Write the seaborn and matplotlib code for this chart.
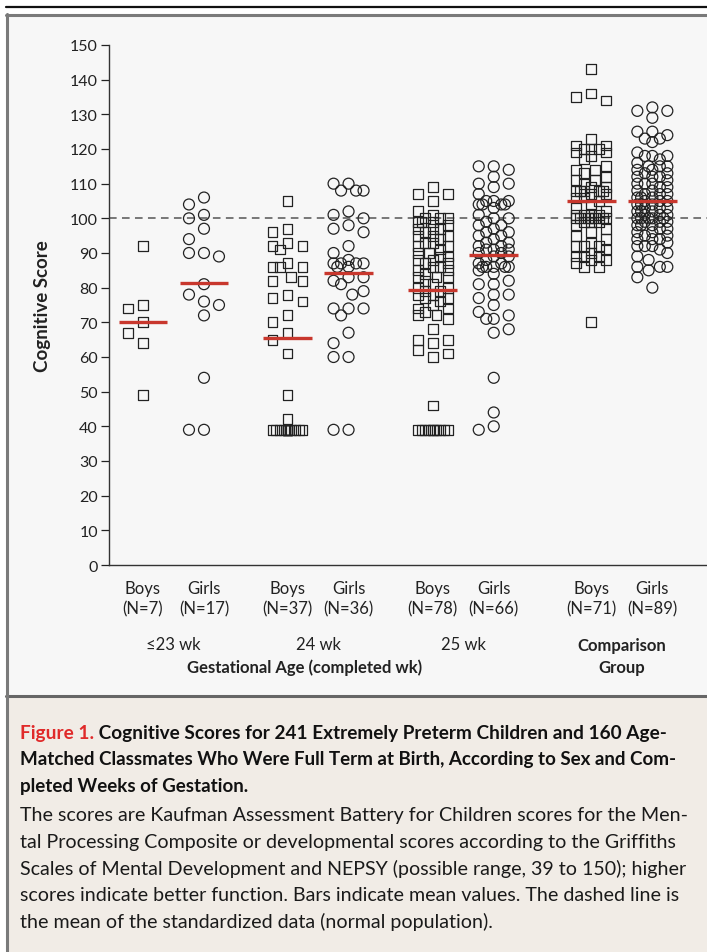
import numpy as np
import pandas as pd
import matplotlib
matplotlib.use("Agg")
import matplotlib.pyplot as plt
import seaborn as sns
from matplotlib.patches import Rectangle
from matplotlib.lines import Line2D

# Scores (one list per group)
boys_23 = [92, 75, 74, 70, 67, 64, 49]
girls_23 = [106, 104, 101, 100, 97, 94, 90, 90, 89, 81, 78, 76, 75, 72, 54, 39, 39]
boys_24 = [105, 97, 96, 93, 92, 92, 91, 87, 86, 86, 86, 83, 82, 82, 78, 77, 76,
           72, 70, 67, 65, 61, 49, 42] + [39] * 13
girls_24 = [110, 110, 108, 108, 108, 102, 101, 100, 98, 97, 96, 92, 90, 88, 87,
            87, 87, 87, 86, 86, 83, 83, 82, 81, 79, 78, 74, 74, 74, 72, 67, 64,
            60, 60, 39, 39]
boys_25 = [109, 107, 107, 105, 102, 101, 100, 100, 100, 99, 99, 99, 98, 97, 97,
           97, 96, 95, 95, 95, 94, 93, 93, 92, 92, 91, 90, 90, 89, 89, 88, 88,
           87, 87, 86, 86, 85, 85, 84, 83, 83, 83, 82, 81, 80, 80, 79, 79, 78,
           78, 77, 77, 76, 75, 74, 74, 73, 72, 72, 71, 68, 65, 65, 64, 62, 61,
           60, 46] + [39] * 10
girls_25 = [115, 115, 114, 112, 110, 110, 109, 107, 105, 105, 105, 104, 104, 104,
            104, 103, 101, 100, 100, 99, 98, 98, 97, 96, 96, 95, 95, 94, 93, 93,
            92, 92, 91, 91, 91, 90, 90, 89, 89, 88, 87, 87, 86, 86, 86, 86, 86,
            85, 84, 82, 81, 81, 78, 78, 77, 75, 73, 72, 71, 71, 68, 67, 54, 44,
            40, 39]
boys_comp = [143, 136, 135, 134, 123, 121, 121, 120, 120, 120, 119, 119, 118, 117,
             108, 107, 115, 114, 114, 113, 112, 111, 111, 110, 109, 109, 108, 108,
             108, 108, 107, 106, 106, 105, 104, 103, 102, 101, 101, 101, 101, 100,
             100, 100, 100, 100, 100, 100, 99, 99, 99, 98, 97, 96, 95, 94, 93, 92,
             92, 92, 91, 90, 89, 89, 89, 88, 88, 87, 86, 86, 70]
girls_comp = [132, 131, 131, 129, 125, 125, 124, 123, 123, 122, 119, 118, 118, 118,
              117, 116, 115, 115, 115, 114, 114, 113, 113, 112, 112, 112, 111, 110,
              110, 110, 109, 109, 108, 108, 107, 107, 107, 106, 106, 106, 105, 105,
              105, 104, 104, 104, 103, 103, 103, 102, 102, 102, 101, 101, 101, 100,
              100, 100, 100, 100, 99, 99, 99, 98, 98, 98, 97, 97, 96, 96, 95, 95,
              94, 94, 94, 93, 92, 92, 92, 91, 90, 89, 88, 86, 86, 86, 85, 83, 80]

group_labels = ["\u226423 wk", "24 wk", "25 wk", "Comparison\nGroup"]
sex_labels = ["Boys", "Girls"]
scores = [[boys_23, girls_23], [boys_24, girls_24],
          [boys_25, girls_25], [boys_comp, girls_comp]]
reference_mean = 100

# layout
W, H = 707, 953
group_mid = [0.5, 2.87, 5.25, 7.85]
X_PX = 61.0            # pixels per x unit
Y_PX = 520 / 150       # pixels per score point
red = "#c8372d"
ink = "#222222"


def spread(values, size, half=15):
    # simple bounded beeswarm: try centre / outer / inner columns
    cols = [0, -1, 1, -0.5, 0.5, -0.75, 0.75, -0.25, 0.25]
    vals = np.asarray(values, dtype=float)
    out = np.zeros(len(vals))
    placed = []
    for i in np.argsort(-vals, kind="stable"):
        y = vals[i] * Y_PX
        best, best_d = 0.0, -1
        for c in cols:
            dx = c * half
            d = min([max(abs(dx - px), abs(y - py)) for px, py in placed] or [1e9])
            if d >= size:
                best = dx
                break
            if d > best_d:
                best, best_d = dx, d
        placed.append((best, y))
        out[i] = best
    return out / X_PX


rows = []
for g, (mid, pair) in enumerate(zip(group_mid, scores)):
    for s, vals in enumerate(pair):
        pos = mid - 0.5 + s
        offs = spread(vals, size=12 if s == 0 else 13)
        for v, o in zip(vals, offs):
            rows.append({"group": g, "sex": sex_labels[s], "pos": pos,
                         "x": pos + o, "score": v})
df = pd.DataFrame(rows)

sns.set_theme(style="ticks")
plt.rcParams["font.family"] = ["Lato", "DejaVu Sans"]

fig = plt.figure(figsize=(W / 100, H / 100), dpi=100)
fig.patch.set_facecolor("white")

def fx(px):
    return px / W

def fy(py):
    return 1 - py / H

# panels
fig.add_artist(Rectangle((fx(7), fy(697)), 1 - fx(7), (697 - 16) / H,
                         transform=fig.transFigure, fc="#f7f7f7", ec="none", zorder=-10))
fig.add_artist(Rectangle((fx(7), 0), 1 - fx(7), fy(697),
                         transform=fig.transFigure, fc="#f1ece6", ec="none", zorder=-10))
fig.add_artist(Line2D([fx(6), 1], [fy(8), fy(8)], transform=fig.transFigure,
                      color="#111111", lw=1.6, zorder=-5))
fig.add_artist(Line2D([fx(6), 1], [fy(16), fy(16)], transform=fig.transFigure,
                      color="#7a7a7a", lw=2.2, zorder=-5))
fig.add_artist(Line2D([fx(6), 1], [fy(697), fy(697)], transform=fig.transFigure,
                      color="#666666", lw=2.2, zorder=-5))
fig.add_artist(Line2D([fx(7), fx(7)], [0, fy(15)], transform=fig.transFigure,
                      color="#7a7a7a", lw=2.2, zorder=-5))

ax = fig.add_axes([fx(109), fy(566), 598 / W, 520 / H])
ax.set_facecolor("none")

ax.axhline(reference_mean, color="#555555", lw=1.1, ls=(0, (5, 3.5)), zorder=1)

boys = df[df["sex"] == "Boys"]
girls = df[df["sex"] == "Girls"]
sns.scatterplot(data=boys, x="x", y="score", marker="s", s=50, facecolor="none",
                edgecolor=ink, linewidth=0.9, ax=ax, zorder=3, clip_on=False)
sns.scatterplot(data=girls, x="x", y="score", marker="o", s=62, facecolor="none",
                edgecolor=ink, linewidth=0.9, ax=ax, zorder=3, clip_on=False)

means = df.groupby(["pos"])["score"].mean()
ax.hlines(means.values, means.index - 0.4, means.index + 0.4, color=red,
          lw=2.4, zorder=5)

ax.set_xlim(-0.557, 9.246)
ax.set_ylim(0, 150)
ax.set_yticks(range(0, 151, 10))
tick_pos = [m - 0.5 + s for m in group_mid for s in range(2)]
tick_lab = [f"{sex_labels[s]}\n(N={len(scores[g][s])})" for g in range(4) for s in range(2)]
ax.set_xticks(tick_pos, labels=tick_lab)
ax.tick_params(axis="x", length=0, pad=11, labelsize=12, labelcolor=ink)
ax.tick_params(axis="y", length=6, width=0.9, pad=2, labelsize=11.5, colors=ink)
for lab in ax.get_xticklabels():
    lab.set_linespacing(1.3)
for side in ["top", "right"]:
    ax.spines[side].set_visible(False)
for side in ["left", "bottom"]:
    ax.spines[side].set_linewidth(1.0)
    ax.spines[side].set_color("#333333")
ax.set_xlabel("")
ax.set_ylabel("Cognitive Score", fontsize=13.5, fontweight="bold", color=ink)
ax.yaxis.set_label_coords(-0.097, 0.5)

xt = ax.get_xaxis_transform()
for g in range(3):
    ax.text(group_mid[g], -0.152, group_labels[g], transform=xt, ha="center",
            va="center", fontsize=12, color=ink)
ax.text(group_mid[3], -0.175, group_labels[3], transform=xt, ha="center",
        va="center", fontsize=12, fontweight="bold", color=ink, linespacing=1.45)
ax.text(2.65, -0.196, "Gestational Age (completed wk)", transform=xt, ha="center",
        va="center", fontsize=12, fontweight="bold", color=ink)

# caption
cap_bold = ["Matched Classmates Who Were Full Term at Birth, According to Sex and Com-",
            "pleted Weeks of Gestation."]
cap_body = ["The scores are Kaufman Assessment Battery for Children scores for the Men-",
            "tal Processing Composite or developmental scores according to the Griffiths",
            "Scales of Mental Development and NEPSY (possible range, 39 to 150); higher",
            "scores indicate better function. Bars indicate mean values. The dashed line is",
            "the mean of the standardized data (normal population)."]
t1 = fig.text(fx(20), fy(742), "Figure 1.", color="#e02a2a", fontsize=13.7,
              fontweight="bold", va="bottom")
ax.annotate(" Cognitive Scores for 241 Extremely Preterm Children and 160 Age-",
            xy=(1, 0), xycoords=t1, va="bottom", ha="left", fontsize=13.7,
            fontweight="bold", color="#111111")
for i, line in enumerate(cap_bold):
    fig.text(fx(20), fy(768.5 + 26.5 * i), line, fontsize=13.5, fontweight="bold",
             color="#111111", va="bottom")
for i, line in enumerate(cap_body):
    fig.text(fx(20), fy(824 + 26.8 * i), line, fontsize=14.1, color="#1a1a1a",
             va="bottom")

fig.savefig("out.png", dpi=100)
